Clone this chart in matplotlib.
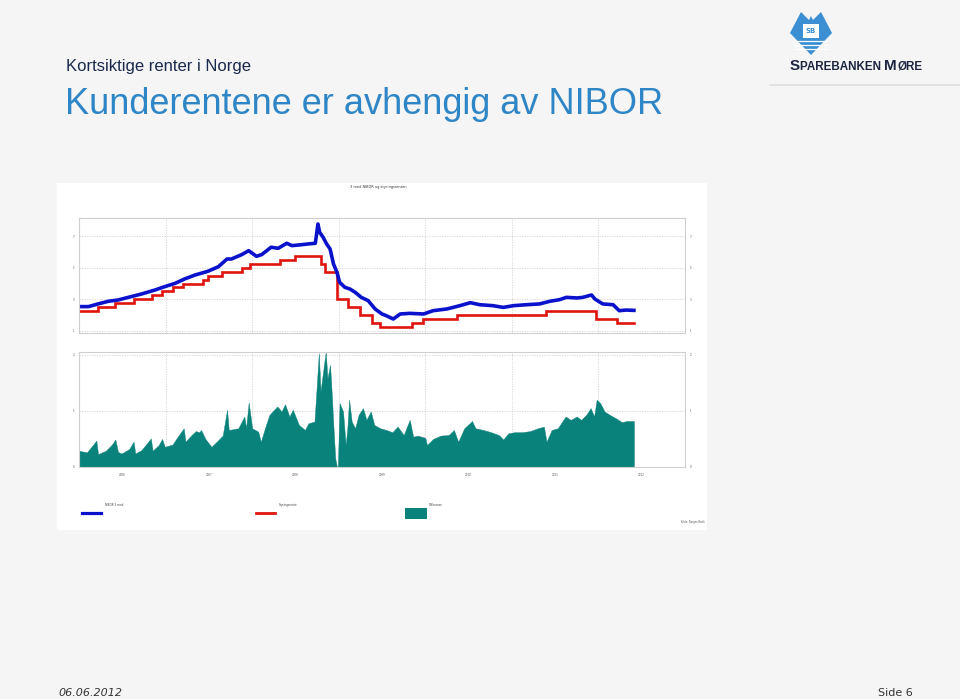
import matplotlib
matplotlib.use("Agg")
import matplotlib.pyplot as plt
from matplotlib.lines import Line2D
from matplotlib.patches import Rectangle, Polygon

# ---------------- data (decimal years, percent) ----------------
nibor_t = [2006.01, 2006.11, 2006.22, 2006.34, 2006.45, 2006.57, 2006.72, 2006.88, 2006.99,
           2007.11, 2007.22, 2007.34, 2007.49, 2007.61, 2007.71, 2007.76, 2007.88, 2007.96,
           2008.05, 2008.11, 2008.22, 2008.30, 2008.40, 2008.46, 2008.57, 2008.65, 2008.73,
           2008.76, 2008.78, 2008.82, 2008.86, 2008.90, 2008.94, 2008.98, 2009.01, 2009.07,
           2009.13, 2009.19, 2009.26, 2009.34, 2009.42, 2009.50, 2009.55, 2009.63, 2009.71,
           2009.82, 2009.98, 2010.09, 2010.25, 2010.40, 2010.52, 2010.63, 2010.78, 2010.90,
           2011.02, 2011.17, 2011.32, 2011.44, 2011.55, 2011.63, 2011.75, 2011.82, 2011.92,
           2011.96, 2012.05, 2012.17, 2012.24, 2012.32, 2012.41]
nibor_v = [2.53, 2.53, 2.70, 2.87, 2.95, 3.12, 3.33, 3.59, 3.80,
           4.01, 4.29, 4.54, 4.78, 5.07, 5.56, 5.56, 5.84, 6.09,
           5.73, 5.84, 6.31, 6.24, 6.56, 6.41, 6.47, 6.52, 6.56,
           7.79, 7.26, 6.94, 6.52, 6.20, 5.24, 4.71, 4.08, 3.76,
           3.65, 3.44, 3.12, 2.91, 2.38, 2.06, 1.95, 1.74, 2.06,
           2.10, 2.06, 2.27, 2.38, 2.59, 2.78, 2.65, 2.59, 2.48,
           2.59, 2.65, 2.70, 2.87, 2.97, 3.12, 3.08, 3.12, 3.27,
           3.01, 2.70, 2.65, 2.27, 2.31, 2.29]

key_t = [2006.00, 2006.215, 2006.416, 2006.63, 2006.84, 2006.96, 2007.09, 2007.20, 2007.435,
         2007.49, 2007.65, 2007.88, 2007.97, 2008.32, 2008.49, 2008.80, 2008.84, 2008.98,
         2009.11, 2009.245, 2009.38, 2009.475, 2009.85, 2009.975, 2010.37, 2011.39, 2011.97,
         2012.21, 2012.41]
key_v = [2.25, 2.50, 2.75, 3.00, 3.25, 3.50, 3.75, 4.00, 4.25,
         4.50, 4.75, 5.00, 5.25, 5.50, 5.75, 5.25, 4.75, 3.00,
         2.50, 2.00, 1.50, 1.25, 1.50, 1.75, 2.00, 2.25, 1.75,
         1.50, 1.50]

spread_t = [2006.00, 2006.09, 2006.16, 2006.20, 2006.22, 2006.31, 2006.38, 2006.42, 2006.45,
            2006.49, 2006.58, 2006.63, 2006.65, 2006.72, 2006.79, 2006.83, 2006.85, 2006.92,
            2006.96, 2006.99, 2007.08, 2007.14, 2007.21, 2007.23, 2007.30, 2007.35, 2007.39,
            2007.41, 2007.46, 2007.53, 2007.59, 2007.66, 2007.71, 2007.73, 2007.84, 2007.91,
            2007.93, 2007.96, 2008.00, 2008.07, 2008.10, 2008.16, 2008.20, 2008.29, 2008.34,
            2008.38, 2008.43, 2008.47, 2008.54, 2008.61, 2008.65, 2008.72, 2008.74, 2008.77,
            2008.79, 2008.83, 2008.85, 2008.87, 2008.90, 2008.92, 2008.94, 2008.96, 2008.98,
            2008.99, 2009.01, 2009.05, 2009.08, 2009.10, 2009.12, 2009.15, 2009.19, 2009.23,
            2009.28, 2009.32, 2009.37, 2009.41, 2009.48, 2009.55, 2009.62, 2009.68, 2009.75,
            2009.82, 2009.86, 2009.91, 2010.00, 2010.02, 2010.09, 2010.18, 2010.27, 2010.33,
            2010.38, 2010.45, 2010.54, 2010.58, 2010.67, 2010.76, 2010.85, 2010.90, 2010.96,
            2011.03, 2011.12, 2011.21, 2011.30, 2011.37, 2011.40, 2011.46, 2011.53, 2011.62,
            2011.68, 2011.75, 2011.80, 2011.86, 2011.91, 2011.95, 2011.98, 2012.02, 2012.07,
            2012.13, 2012.20, 2012.27, 2012.33, 2012.41]
spread_v = [0.29, 0.26, 0.39, 0.47, 0.23, 0.29, 0.40, 0.49, 0.27,
            0.24, 0.32, 0.45, 0.24, 0.30, 0.43, 0.51, 0.29, 0.39,
            0.50, 0.36, 0.40, 0.54, 0.69, 0.45, 0.57, 0.64, 0.62,
            0.66, 0.50, 0.36, 0.45, 0.56, 1.02, 0.66, 0.69, 0.90,
            0.69, 1.15, 0.69, 0.63, 0.45, 0.75, 0.93, 1.08, 0.99,
            1.12, 0.90, 1.02, 0.75, 0.66, 0.78, 0.81, 1.29, 2.03,
            1.35, 1.82, 2.05, 1.58, 1.82, 1.29, 0.69, 0.15, 0.00,
            0.00, 1.14, 0.99, 0.39, 0.69, 1.20, 0.81, 0.69, 0.93,
            1.05, 0.84, 0.99, 0.75, 0.69, 0.66, 0.62, 0.72, 0.57,
            0.84, 0.54, 0.56, 0.52, 0.39, 0.50, 0.56, 0.57, 0.66,
            0.45, 0.69, 0.82, 0.69, 0.66, 0.62, 0.57, 0.49, 0.60,
            0.62, 0.62, 0.64, 0.69, 0.72, 0.45, 0.66, 0.69, 0.90,
            0.84, 0.90, 0.84, 0.93, 1.05, 0.90, 1.20, 1.14, 0.99,
            0.93, 0.87, 0.80, 0.82, 0.82]

years = [2006, 2007, 2008, 2009, 2010, 2011, 2012]
top_yticks = [1, 3, 5, 7]
bot_yticks = [0, 1, 2]
legend_labels = ["NIBOR 3 mnd", "Styringsrente", "Differanse"]

BLUE = "#0a12cc"
RED = "#e0140f"
TEAL = "#0a827c"
GRID = "#d4d4d4"
FRAME = "#cfcfcf"

W, H = 960, 699
fig = plt.figure(figsize=(W / 100, H / 100), dpi=100, facecolor="#f5f5f5")


def fx(px):
    return px / W


def fy(py):
    return 1 - py / H


# white chart picture background
fig.add_artist(Rectangle((fx(57), fy(530)), fx(707) - fx(57), fy(183) - fy(530),
                         transform=fig.transFigure, facecolor="white", edgecolor="none", zorder=0))


def style_axes(ax):
    ax.set_facecolor("white")
    for s in ax.spines.values():
        s.set_color(FRAME)
        s.set_linewidth(0.8)
    ax.grid(True, which="major", color=GRID, linestyle=(0, (1.5, 1.5)), linewidth=0.6)
    ax.tick_params(which="both", length=0, labelsize=2, labelcolor="#555555",
                   labelleft=True, labelright=True)
    ax.set_axisbelow(True)


# top panel
ax1 = fig.add_axes([fx(79), fy(333), fx(685) - fx(79), fy(218) - fy(333)])
style_axes(ax1)
ax1.plot(key_t, key_v, drawstyle="steps-post", color=RED, linewidth=1.9, solid_joinstyle="miter")
ax1.plot(nibor_t, nibor_v, color=BLUE, linewidth=2.6)
ax1.set_xlim(2006, 2013)
ax1.set_ylim(0.85, 8.17)
ax1.set_yticks(top_yticks)
ax1.set_yticklabels([str(v) for v in top_yticks])
ax1.set_xticks(years + [2013])
ax1.set_xticklabels([])

# bottom panel
ax2 = fig.add_axes([fx(79), fy(467), fx(685) - fx(79), fy(352) - fy(467)])
style_axes(ax2)
ax2.fill_between(spread_t, spread_v, 0, color=TEAL, linewidth=0.3, edgecolor=TEAL)
ax2.set_xlim(2006, 2013)
ax2.set_ylim(0, 2.05)
ax2.set_yticks(bot_yticks)
ax2.set_yticklabels([str(v) for v in bot_yticks])
ax2.set_xticks(years + [2013])
ax2.set_xticklabels([])
ax2.set_xticks([y + 0.5 for y in years], minor=True)
ax2.set_xticklabels([str(y) for y in years], minor=True)
ax2.tick_params(axis="x", which="minor", labelsize=2, pad=4)
ax2.grid(False, which="minor")

# tiny chart title
fig.text(fx(378), fy(187), "3 mnd NIBOR og styringsrenten", fontsize=2.5, color="#333333",
         ha="center", va="center")

# legend
fig.add_artist(Line2D([fx(82), fx(101)], [fy(513), fy(513)], color=BLUE, linewidth=2.3,
                      transform=fig.transFigure))
fig.add_artist(Line2D([fx(256), fx(275)], [fy(513), fy(513)], color=RED, linewidth=2.0,
                      transform=fig.transFigure))
fig.add_artist(Rectangle((fx(405), fy(519)), fx(427) - fx(405), fy(508) - fy(519),
                         transform=fig.transFigure, facecolor=TEAL, edgecolor="none"))
for xp, lab in zip([105, 279, 429], legend_labels):
    fig.text(fx(xp), fy(505), lab, fontsize=2, color="#444444", ha="left", va="center")
fig.text(fx(705), fy(522), "Kilde: Norges Bank", fontsize=1.8, color="#555555",
         ha="right", va="center")

# slide texts
fig.text(fx(66), fy(66), "Kortsiktige renter i Norge", fontsize=12, color="#1a2a4c",
         family="Liberation Sans", ha="left", va="center")
fig.text(fx(65), fy(105), "Kunderentene er avhengig av NIBOR", fontsize=26, color="#2f86c6",
         family="Liberation Sans", ha="left", va="center")
fig.text(fx(58), fy(693), "06.06.2012", fontsize=8, color="#333333", style="italic",
         family="DejaVu Sans", ha="left", va="center")
fig.text(fx(913), fy(693), "Side 6", fontsize=8, color="#333333",
         family="DejaVu Sans", ha="right", va="center")

# logo (simple drawing)
logo_pts = [(790, 33), (801, 12), (809, 20), (811, 16), (813, 20), (821, 12), (832, 33), (811, 55)]
fig.add_artist(Polygon([(fx(a), fy(b)) for a, b in logo_pts], closed=True,
                       transform=fig.transFigure, facecolor="#3b8fd2", edgecolor="none"))
for yy in [41, 45, 49]:
    fig.add_artist(Line2D([fx(795), fx(827)], [fy(yy), fy(yy)], color="white", linewidth=0.9,
                          transform=fig.transFigure))
fig.add_artist(Rectangle((fx(803), fy(38)), fx(819) - fx(803), fy(24) - fy(38),
                         transform=fig.transFigure, facecolor="white", edgecolor="none"))
fig.text(fx(811), fy(31), "SB", fontsize=5, color="#3b8fd2", ha="center", va="center",
         weight="bold")

# SPAREBANKEN MØRE in small caps
renderer = fig.canvas.get_renderer()
x = 790
pieces = [("S", 11), ("PAREBANKEN ", 8.4), ("M", 11), ("ØRE", 8.4)]
for txt, fs in pieces:
    t = fig.text(fx(x), fy(70), txt, fontsize=fs, color="#1d2540", weight="bold",
                 family="Liberation Sans", ha="left", va="baseline")
    bb = t.get_window_extent(renderer=renderer)
    x += bb.width

fig.add_artist(Line2D([fx(770), fx(960)], [fy(85), fy(85)], color="#dddddd", linewidth=1.2,
                      transform=fig.transFigure))

fig.savefig("out.png", dpi=100, facecolor=fig.get_facecolor())
